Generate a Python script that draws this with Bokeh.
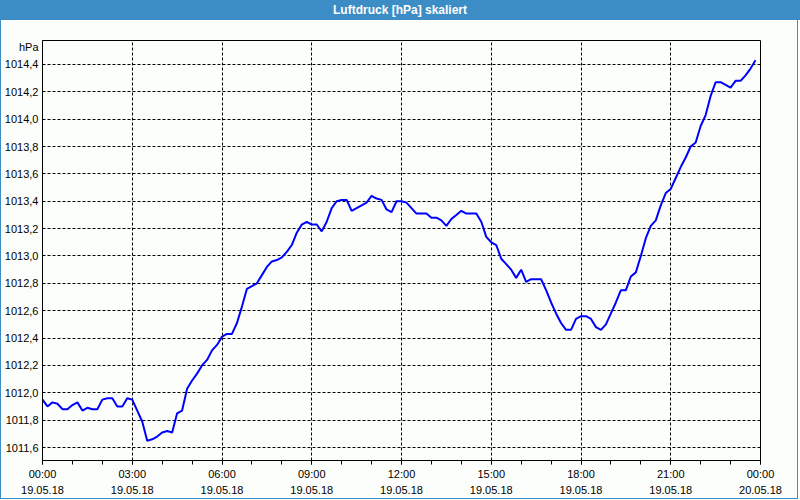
import numpy as np
from bokeh.plotting import figure
from bokeh.models import FixedTicker, CustomJSTickFormatter, Div, Range1d
from bokeh.layouts import column
from bokeh.embed import file_html
from bokeh.resources import INLINE

title_text = "Luftdruck [hPa] skaliert"
unit_label = "hPa"

# 10-minute samples, 19.05.18 00:00 .. 23:50
minutes = [10 * i for i in range(144)]
pressure = [
    1011.95, 1011.90, 1011.93, 1011.92, 1011.88, 1011.88, 1011.91, 1011.93, 1011.87, 1011.89,
    1011.88, 1011.88, 1011.95, 1011.96, 1011.96, 1011.90, 1011.90, 1011.96, 1011.95, 1011.87,
    1011.79, 1011.65, 1011.66, 1011.68, 1011.71, 1011.72, 1011.71, 1011.85, 1011.87, 1012.03,
    1012.09, 1012.14, 1012.20, 1012.24, 1012.31, 1012.35, 1012.41, 1012.43, 1012.43, 1012.51,
    1012.63, 1012.76, 1012.78, 1012.80, 1012.86, 1012.92, 1012.96, 1012.97, 1012.99, 1013.03,
    1013.08, 1013.17, 1013.23, 1013.25, 1013.23, 1013.23, 1013.18, 1013.25, 1013.35, 1013.40,
    1013.41, 1013.41, 1013.33, 1013.35, 1013.37, 1013.39, 1013.44, 1013.42, 1013.41, 1013.34,
    1013.32, 1013.40, 1013.40, 1013.39, 1013.35, 1013.31, 1013.31, 1013.31, 1013.28, 1013.28,
    1013.26, 1013.22, 1013.27, 1013.30, 1013.33, 1013.31, 1013.31, 1013.31, 1013.25, 1013.14,
    1013.10, 1013.08, 1012.98, 1012.94, 1012.90, 1012.84, 1012.90, 1012.81, 1012.83, 1012.83,
    1012.83, 1012.75, 1012.66, 1012.58, 1012.51, 1012.46, 1012.46, 1012.54, 1012.56, 1012.56,
    1012.54, 1012.48, 1012.46, 1012.50, 1012.58, 1012.66, 1012.75, 1012.75, 1012.85, 1012.88,
    1013.00, 1013.13, 1013.22, 1013.26, 1013.37, 1013.46, 1013.49, 1013.57, 1013.65, 1013.72,
    1013.80, 1013.83, 1013.95, 1014.03, 1014.17, 1014.27, 1014.27, 1014.25, 1014.23, 1014.28,
    1014.28, 1014.32, 1014.37, 1014.43,
]

xtick_hours = [0, 3, 6, 9, 12, 15, 18, 21, 24]
xtick_times = ["00:00", "03:00", "06:00", "09:00", "12:00", "15:00", "18:00", "21:00", "00:00"]
xtick_dates = ["19.05.18"] * 8 + ["20.05.18"]

ytick_values = [1011.6, 1011.8, 1012.0, 1012.2, 1012.4, 1012.6, 1012.8, 1013.0,
                1013.2, 1013.4, 1013.6, 1013.8, 1014.0, 1014.2, 1014.4]
ytick_labels = ["1011,6", "1011,8", "1012,0", "1012,2", "1012,4", "1012,6", "1012,8", "1013,0",
                "1013,2", "1013,4", "1013,6", "1013,8", "1014,0", "1014,2", "1014,4"]

y_lo, y_hi = 1011.505, 1014.575
unit_pos = y_hi - 0.045

hours = [m / 60.0 for m in minutes]

FONT = "Liberation Sans"
BLUE = "#3c8dc6"
BG = "#fcfefc"

div = Div(text=title_text, width=800, height=20, margin=0,
          styles={"background-color": BLUE, "color": "white", "font-family": FONT,
                  "font-weight": "bold", "font-size": "12px", "text-align": "center",
                  "line-height": "20px", "width": "800px"})

p = figure(width=798, height=479, output_backend="svg", toolbar_location=None, margin=0,
           x_range=Range1d(0, 24), y_range=Range1d(y_lo, y_hi),
           min_border_left=39, min_border_right=39, min_border_top=20, min_border_bottom=39,
           background_fill_color=BG, border_fill_color=BG)
p.styles = {"border-left": f"1px solid {BLUE}", "border-right": f"1px solid {BLUE}",
            "border-bottom": f"1px solid {BLUE}"}

p.line(hours, pressure, line_color="#0000ff", line_width=2)

p.outline_line_color = "black"
p.outline_line_width = 1
p.outline_line_alpha = 1

# x axis
p.xaxis.ticker = FixedTicker(ticks=xtick_hours, minor_ticks=list(range(25)))
p.xaxis.formatter = CustomJSTickFormatter(
    args=dict(hrs=xtick_hours, t=xtick_times, d=xtick_dates),
    code="""
    let b = 0;
    for (let i = 0; i < hrs.length; i++) { if (Math.abs(hrs[i]-tick) < Math.abs(hrs[b]-tick)) b = i; }
    return t[b] + "\\n" + d[b];
    """)
p.xaxis.major_tick_out = 4
p.xaxis.major_tick_in = 0
p.xaxis.minor_tick_out = 4
p.xaxis.minor_tick_in = 0
p.xaxis.major_label_standoff = 3
p.xaxis.major_label_text_font = FONT
p.xaxis.major_label_text_font_size = "11px"
p.xaxis.major_label_text_color = "black"
p.xaxis.major_label_text_line_height = 1.4
p.xaxis.axis_line_color = "black"

# y axis
p.yaxis.ticker = FixedTicker(ticks=ytick_values + [unit_pos], minor_ticks=[])
p.yaxis.formatter = CustomJSTickFormatter(
    args=dict(v=ytick_values, l=ytick_labels, up=unit_pos, ul=unit_label),
    code="""
    if (Math.abs(tick - up) < 0.01) return ul;
    let b = 0;
    for (let i = 0; i < v.length; i++) { if (Math.abs(v[i]-tick) < Math.abs(v[b]-tick)) b = i; }
    return l[b];
    """)
p.yaxis.major_tick_out = 0
p.yaxis.major_tick_in = 0
p.yaxis.minor_tick_out = 0
p.yaxis.minor_tick_in = 0
p.yaxis.major_label_standoff = 4
p.yaxis.major_label_text_font = FONT
p.yaxis.major_label_text_font_size = "11px"
p.yaxis.major_label_text_color = "black"
p.yaxis.axis_line_color = "black"

# grid
p.xgrid.ticker = FixedTicker(ticks=xtick_hours)
p.ygrid.ticker = FixedTicker(ticks=ytick_values)
for g in (p.xgrid, p.ygrid):
    g.grid_line_color = "black"
    g.grid_line_dash = "3 2"
    g.grid_line_width = 1
    g.grid_line_alpha = 1

layout = column(div, p, spacing=0, margin=0)
open("out.html", "w").write(file_html(layout, INLINE))
